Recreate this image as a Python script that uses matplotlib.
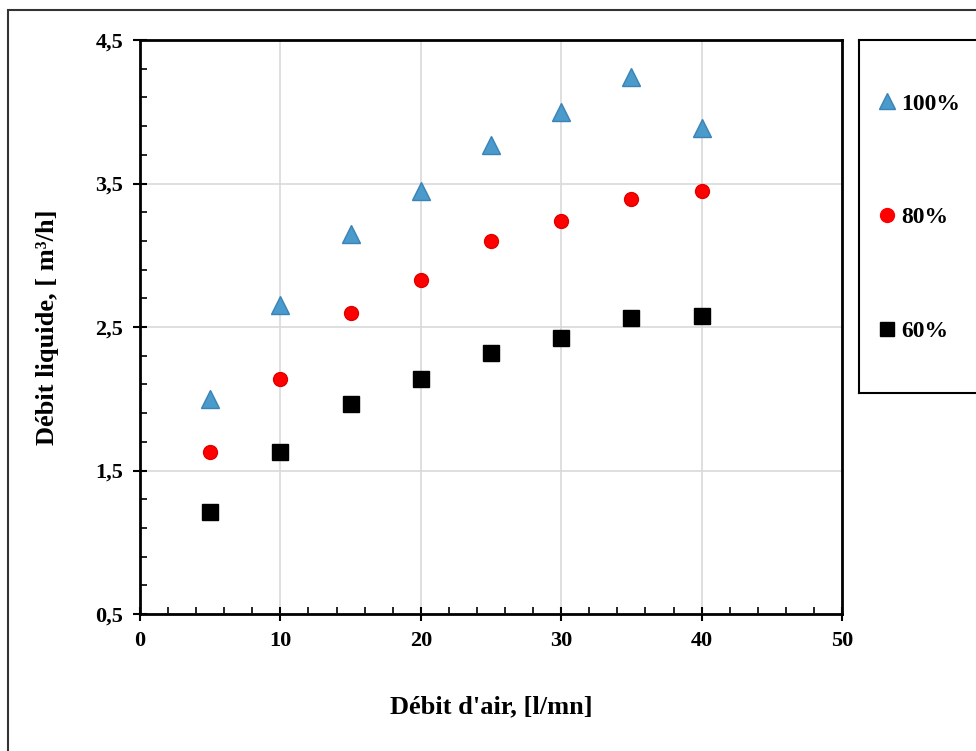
import matplotlib.pyplot as plt
from matplotlib.patches import Rectangle
from matplotlib.lines import Line2D
from matplotlib.ticker import MultipleLocator, FuncFormatter

plt.rcParams['font.family'] = ['Liberation Serif', 'DejaVu Serif']
plt.rcParams['font.weight'] = 'bold'

debit_air = [5, 10, 15, 20, 25, 30, 35, 40]
liq_100 = [2.0, 2.65, 3.15, 3.45, 3.77, 4.0, 4.24, 3.89]
liq_80 = [1.63, 2.14, 2.6, 2.83, 3.1, 3.24, 3.39, 3.45]
liq_60 = [1.21, 1.63, 1.96, 2.14, 2.32, 2.42, 2.56, 2.58]

fig = plt.figure(figsize=(9.76, 7.51), dpi=100)
ax = fig.add_axes([140/976, 1 - 614/751, 702/976, 574/751])

ax.plot(debit_air, liq_100, '^', color='#4a9acb', mec='#3b82b5', ms=13, zorder=3)
ax.plot(debit_air, liq_80, 'o', color='#ff0000', mec='#e00000', ms=10, zorder=3)
ax.plot(debit_air, liq_60, 's', color='black', ms=11, zorder=3)

ax.set_xlim(0, 50)
ax.set_ylim(0.5, 4.5)
ax.xaxis.set_major_locator(MultipleLocator(10))
ax.xaxis.set_minor_locator(MultipleLocator(2))
ax.yaxis.set_major_locator(MultipleLocator(1, offset=0.5))
ax.yaxis.set_minor_locator(MultipleLocator(0.2, offset=0.1))
ax.yaxis.set_major_formatter(FuncFormatter(lambda v, p: f"{v:.1f}".replace('.', ',')))
ax.tick_params(which='major', direction='inout', length=10, width=1.5, labelsize=16, pad=7)
ax.tick_params(which='minor', direction='in', length=5, width=1.2)
ax.tick_params(top=False, right=False, which='both')
ax.grid(True, which='major', color='#d9d9d9', lw=1.2)
ax.set_axisbelow(True)
for s in ax.spines.values():
    s.set_linewidth(2)

ax.set_xlabel("Débit d'air, [l/mn]", fontsize=19, fontweight='bold', labelpad=32)
ax.set_ylabel("Débit liquide, [ m³/h]", fontsize=19, fontweight='bold', labelpad=26)

# legend box outside the plot area
lax = fig.add_axes([859/976, 1 - 393/751, 140/976, 353/751])
lax.set_xticks([])
lax.set_yticks([])
for s in lax.spines.values():
    s.set_linewidth(1.5)
handles = [
    Line2D([], [], ls='none', marker='^', color='#4a9acb', mec='#3b82b5', ms=11),
    Line2D([], [], ls='none', marker='o', color='#ff0000', ms=10),
    Line2D([], [], ls='none', marker='s', color='black', ms=10),
]
lax.legend(handles, ['100%', '80%', '60%'], loc='upper left', bbox_to_anchor=(0.0, 0.91),
           frameon=False, fontsize=17, handlelength=0.6, handletextpad=0.3,
           labelspacing=3.9, borderaxespad=0.5)

# outer frame
fig.patches.append(Rectangle((8/976, -0.1), 1.2, 0.1 + 1 - 10/751, transform=fig.transFigure,
                             fill=False, lw=1.5, ec='#333333'))

fig.savefig("out.png", dpi=100)
